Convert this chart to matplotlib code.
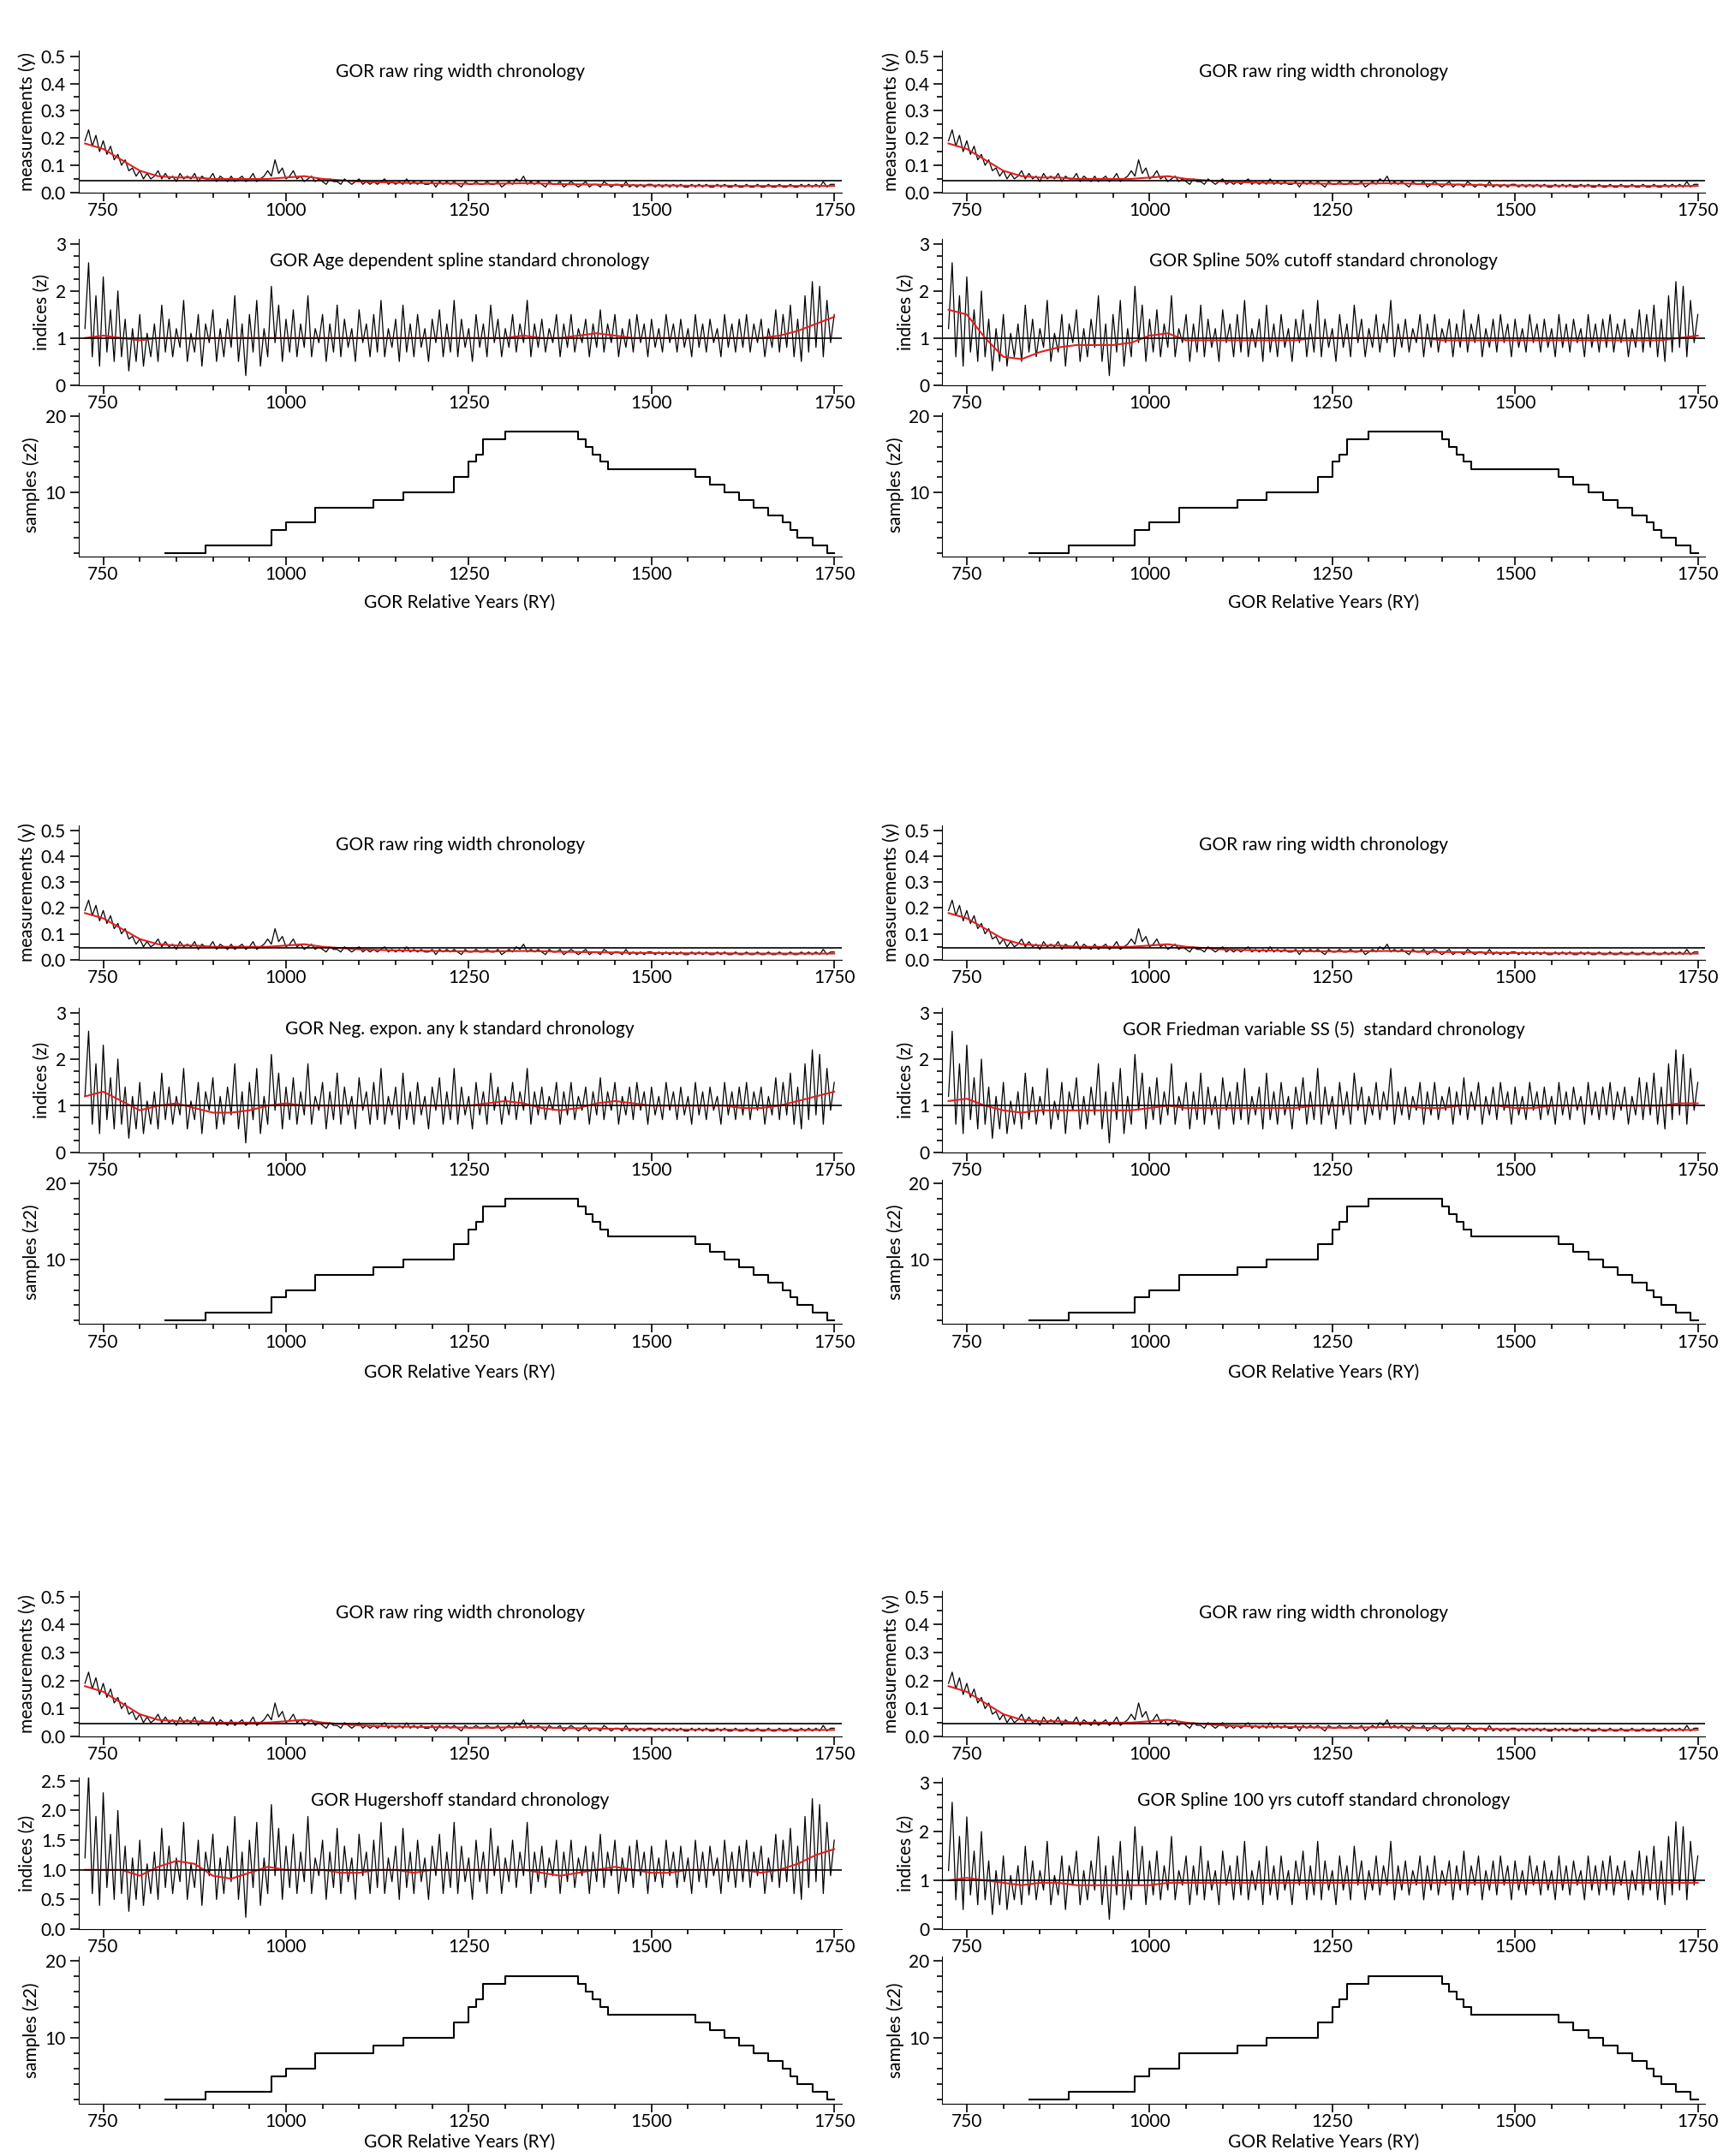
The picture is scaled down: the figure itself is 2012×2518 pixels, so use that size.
import numpy as np
import matplotlib
matplotlib.use("Agg")
import matplotlib.pyplot as plt
from matplotlib.ticker import MultipleLocator

plt.rcParams['font.family'] = ['Lato', 'DejaVu Sans']

raw_width = [0.19,0.23,0.17,0.21,0.15,0.19,0.14,0.17,0.12,0.14,
0.10,0.12,0.08,0.09,0.06,0.08,0.05,0.07,0.05,0.06,
0.08,0.05,0.07,0.05,0.06,0.04,0.07,0.05,0.06,0.05,
0.07,0.04,0.06,0.05,0.05,0.07,0.04,0.06,0.05,0.04,
0.06,0.04,0.05,0.06,0.04,0.05,0.07,0.04,0.05,0.06,
0.08,0.06,0.12,0.07,0.09,0.05,0.06,0.08,0.05,0.06,
0.04,0.05,0.06,0.04,0.05,0.04,0.03,0.05,0.04,0.04,
0.03,0.05,0.04,0.03,0.04,0.05,0.03,0.04,0.03,0.04,
0.03,0.04,0.05,0.03,0.04,0.03,0.04,0.03,0.05,0.03,
0.04,0.03,0.04,0.03,0.03,0.04,0.02,0.04,0.03,0.04,
0.03,0.04,0.03,0.02,0.04,0.03,0.03,0.04,0.03,0.03,
0.04,0.03,0.03,0.04,0.02,0.03,0.04,0.03,0.05,0.04,
0.06,0.03,0.04,0.03,0.04,0.03,0.02,0.04,0.03,0.03,
0.04,0.02,0.03,0.04,0.03,0.02,0.03,0.04,0.02,0.03,
0.03,0.02,0.04,0.03,0.02,0.03,0.03,0.02,0.04,0.02,
0.03,0.02,0.03,0.02,0.03,0.03,0.02,0.03,0.02,0.03,
0.02,0.03,0.02,0.03,0.02,0.02,0.03,0.02,0.03,0.02,
0.03,0.02,0.02,0.03,0.02,0.03,0.02,0.02,0.03,0.02,
0.02,0.03,0.02,0.02,0.03,0.02,0.02,0.03,0.02,0.02,
0.03,0.02,0.02,0.03,0.02,0.02,0.03,0.02,0.03,0.02,
0.03,0.02,0.04,0.02,0.03,0.03]

raw_smooth = [0.18,0.16,0.12,0.08,0.06,0.055,0.055,0.05,0.05,0.05,0.05,0.055,0.06,0.05,
0.045,0.04,0.038,0.036,0.035,0.034,0.033,0.032,0.032,0.033,0.034,0.033,0.031,0.03,
0.029,0.028,0.027,0.026,0.026,0.025,0.025,0.025,0.024,0.024,0.024,0.024,0.024,0.024]

index_vals = [1.2,2.6,0.6,1.9,0.4,2.3,0.7,1.6,0.5,2.0,
0.6,1.4,0.3,1.2,0.5,1.5,0.4,1.1,0.6,1.3,
0.5,1.7,0.7,1.4,0.6,1.2,0.8,1.8,0.5,1.1,
0.7,1.5,0.4,1.3,0.9,1.6,0.5,1.2,0.6,1.4,
0.8,1.9,0.5,1.3,0.2,1.5,0.7,1.8,0.4,1.2,
0.6,2.1,0.9,1.7,0.5,1.4,0.7,1.6,0.6,1.3,
0.8,1.9,0.6,1.2,0.9,1.5,0.5,1.3,0.7,1.7,
0.6,1.4,0.8,1.2,0.5,1.6,0.9,1.3,0.6,1.5,
0.7,1.8,0.6,1.2,0.8,1.4,0.5,1.7,0.7,1.3,
0.6,1.5,0.8,1.2,0.5,1.4,0.9,1.6,0.6,1.3,
0.7,1.8,0.6,1.4,0.8,1.2,0.5,1.5,0.8,1.3,
0.6,1.7,0.9,1.4,0.6,1.2,0.8,1.5,0.7,1.3,
0.9,1.8,0.6,1.3,0.8,1.4,0.7,1.2,0.9,1.5,
0.6,1.3,0.8,1.5,0.7,1.2,0.9,1.4,0.6,1.3,
0.8,1.6,0.7,1.3,0.9,1.5,0.6,1.2,0.8,1.4,
0.7,1.5,0.9,1.3,0.6,1.4,0.8,1.2,0.7,1.5,
0.9,1.3,0.7,1.4,0.8,1.2,0.6,1.5,0.8,1.3,
0.7,1.4,0.9,1.2,0.6,1.5,0.8,1.3,0.7,1.4,
0.8,1.5,0.7,1.3,0.9,1.4,0.6,1.2,0.8,1.6,
0.7,1.5,0.8,1.7,0.6,1.4,0.5,1.9,0.7,2.2,
0.8,2.1,0.6,1.8,0.9,1.5]

curve_age = [1.0,1.05,1.0,0.95,1.0,1.0,0.98,1.0,1.0,1.0,1.0,1.0,1.0,1.0,1.0,1.0,1.0,1.0,1.0,1.0,1.0,
1.0,1.0,1.0,1.05,1.0,1.0,1.05,1.1,1.05,1.0,1.0,1.0,1.0,1.0,1.0,1.0,1.0,1.05,1.15,1.3,1.45]
curve_spl50 = [1.6,1.5,1.0,0.6,0.55,0.7,0.8,0.85,0.85,0.85,0.9,1.05,1.1,0.95,0.95,0.95,0.95,0.95,0.95,0.95,
1.0,1.0,1.0,1.0,1.0,1.0,1.0,0.95,0.95,0.95,0.95,0.95,0.95,0.95,0.95,0.95,0.95,0.95,0.95,0.95,1.0,1.05]
curve_negexp = [1.2,1.3,1.1,0.9,1.0,1.05,0.95,0.85,0.85,0.9,1.0,1.05,1.0,1.0,1.0,1.0,1.0,1.0,1.0,1.0,1.0,
1.0,1.05,1.1,1.05,0.95,0.9,0.95,1.05,1.1,1.05,1.0,1.0,1.0,1.0,1.0,0.95,0.95,1.0,1.1,1.2,1.3]
curve_friedman = [1.1,1.15,1.0,0.9,0.85,0.9,0.9,0.9,0.9,0.9,0.9,0.95,1.0,0.95,0.95,0.95,0.95,0.95,0.95,0.95,
1.0,1.0,1.0,1.0,1.0,1.0,0.95,0.95,1.0,1.0,1.0,0.95,0.95,1.0,1.0,1.0,1.0,1.0,1.0,1.0,1.05,1.05]
curve_hug = [1.0,1.0,1.0,0.9,1.05,1.15,1.1,0.9,0.85,0.95,1.05,1.0,1.0,1.0,0.95,0.95,1.0,1.0,0.95,1.0,1.0,
1.0,1.0,1.0,1.0,0.95,0.9,0.95,1.0,1.05,1.0,0.95,0.95,1.0,1.0,1.0,1.0,0.95,1.0,1.1,1.25,1.35]
curve_spl100 = [1.0,1.05,1.0,0.95,0.9,0.95,0.95,0.9,0.9,0.9,0.9,0.9,0.95,0.95,0.95,0.95,0.95,0.95,0.95,0.95,
0.95,0.95,0.95,0.95,0.95,0.95,0.95,0.95,0.95,0.95,0.95,0.95,0.95,0.95,0.95,0.95,0.95,0.95,0.95,0.95,0.95,0.95]

depth_years = [835,890,980,1000,1040,1120,1160,1230,1250,1260,1270,1300,1400,1410,1420,1430,1440,
               1560,1580,1600,1620,1640,1660,1680,1690,1700,1720,1740,1750]
depth_vals = [2,3,5,6,8,9,10,12,14,15,17,18,17,16,15,14,13,12,11,10,9,8,7,6,5,4,3,2,2]

titles = ["GOR Age dependent spline standard chronology", "GOR Spline 50% cutoff standard chronology",
          "GOR Neg. expon. any k standard chronology", "GOR Friedman variable SS (5)  standard chronology",
          "GOR Hugershoff standard chronology", "GOR Spline 100 yrs cutoff standard chronology"]
curves = [curve_age, curve_spl50, curve_negexp, curve_friedman, curve_hug, curve_spl100]

W, H = 1253.0, 1568.0
fig = plt.figure(figsize=(20.12, 25.18), dpi=100)
groups = [((37,140),(174,280),(300,405),438),
          ((600,698),(733,838),(858,963),998),
          ((1157,1263),(1293,1403),(1423,1530),1558)]
cols = [(57,612),(685,1240)]
XL = (716, 1760)
yr_raw = np.linspace(725, 1750, len(raw_width))
yr_sm = np.linspace(725, 1750, len(raw_smooth))
yr_idx = np.linspace(725, 1750, len(index_vals))
FS = 15

def mk(x0, x1, y0, y1):
    ax = fig.add_axes([x0/W, 1-y1/H, (x1-x0)/W, (y1-y0)/H])
    for s in ('top','right'):
        ax.spines[s].set_visible(False)
    ax.set_xlim(*XL)
    ax.xaxis.set_major_locator(MultipleLocator(250))
    ax.xaxis.set_minor_locator(MultipleLocator(50))
    ax.tick_params(which='both', direction='out', labelsize=FS, width=1.2)
    ax.tick_params(which='major', length=7)
    ax.tick_params(which='minor', length=4)
    ax.tick_params(axis='x', pad=1)
    return ax

for g, (rr, ii, ss, xl) in enumerate(groups):
    for c, (x0, x1) in enumerate(cols):
        k = g*2 + c
        a = mk(x0, x1, *rr)
        a.plot(yr_raw, raw_width, color='black', lw=0.9)
        a.plot(yr_sm, raw_smooth, color='#e02020', lw=1.5)
        a.axhline(0.045, color='black', lw=1.2)
        a.set_ylim(0, 0.52)
        a.yaxis.set_major_locator(MultipleLocator(0.1))
        a.yaxis.set_minor_locator(MultipleLocator(0.05))
        a.set_yticklabels([]) if False else None
        a.set_ylabel("measurements (y)", fontsize=FS)
        a.text(0.5, 0.85, "GOR raw ring width chronology", transform=a.transAxes,
               ha='center', va='center', fontsize=FS)

        b = mk(x0, x1, *ii)
        b.plot(yr_idx, index_vals, color='black', lw=0.9)
        b.plot(np.linspace(725, 1750, len(curves[k])), curves[k], color='#e02020', lw=1.5)
        b.axhline(1.0, color='black', lw=1.2)
        if k == 4:
            b.set_ylim(0, 2.55)
            b.yaxis.set_major_locator(MultipleLocator(0.5))
            b.yaxis.set_minor_locator(MultipleLocator(0.25))
            b.yaxis.set_major_formatter(matplotlib.ticker.FormatStrFormatter('%.1f'))
        else:
            b.set_ylim(0, 3.1)
            b.yaxis.set_major_locator(MultipleLocator(1))
            b.yaxis.set_minor_locator(MultipleLocator(0.25))
        b.set_ylabel("indices (z)", fontsize=FS)
        b.text(0.5, 0.85, titles[k], transform=b.transAxes, ha='center', va='center', fontsize=FS)

        s = mk(x0, x1, *ss)
        s.step(depth_years, depth_vals, where='post', color='black', lw=1.5)
        s.set_ylim(1.5, 20.5)
        s.set_yticks([10, 20])
        s.yaxis.set_minor_locator(MultipleLocator(2))
        s.set_ylabel("samples (z2)", fontsize=FS)
        fig.text((x0+x1)/2/W, 1-xl/H, "GOR Relative Years (RY)", ha='center', va='center', fontsize=FS)

fig.savefig("out.png", dpi=100)
